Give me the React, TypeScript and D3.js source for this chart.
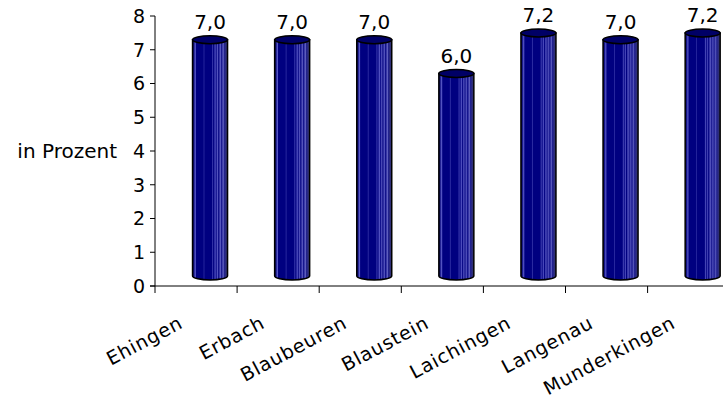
import React from "react";
import * as d3 from "d3";

const categories = ["Ehingen", "Erbach", "Blaubeuren", "Blaustein", "Laichingen", "Langenau", "Munderkingen"];
const values = [7.0, 7.0, 7.0, 6.0, 7.2, 7.0, 7.2];
const valueLabels = ["7,0", "7,0", "7,0", "6,0", "7,2", "7,0", "7,2"];
const yTicks = [0, 1, 2, 3, 4, 5, 6, 7, 8];
const yTitle = "in Prozent";

const W = 723;
const H = 403;
const FONT = "'DejaVu Sans', sans-serif";

export default function App() {
  const left = 155;
  const band = 82.1;
  const x = d3.scaleBand<string>().domain(categories).range([left, left + band * categories.length]).padding(0);
  const y = d3.scaleLinear().domain([0, 8]).range([286, 16]);
  const dx = 14;
  const dy = -10;
  const rx = 17.5;
  const ry = 4;

  const stops: [number, string][] = [
    [0, "#000040"], [0.04, "#141488"], [0.08, "#5a5ac8"], [0.11, "#000080"],
    [0.3, "#000080"], [0.33, "#2a2aa0"], [0.35, "#000080"], [0.55, "#000080"],
    [0.58, "#4848b8"], [0.6, "#000080"], [0.65, "#5050c0"], [0.67, "#000080"],
    [0.72, "#6060c8"], [0.74, "#10108a"], [0.8, "#5858c0"], [0.82, "#10108a"],
    [0.88, "#6060c0"], [0.9, "#202090"], [1, "#38386a"],
  ];

  return (
    <svg width={W} height={H} style={{ position: "absolute", left: 0, top: 0, background: "#fff" }}>
      <defs>
        <linearGradient id="cyl" x1="0" x2="1" y1="0" y2="0">
          {stops.map(([o, c], i) => (
            <stop key={i} offset={o} stopColor={c} />
          ))}
        </linearGradient>
      </defs>
      {/* axes */}
      <line x1={left} x2={left} y1={y(8)} y2={y(0)} stroke="#000" strokeWidth={1} />
      <line x1={left - 5} x2={W} y1={y(0)} y2={y(0)} stroke="#000" strokeWidth={1} />
      {yTicks.map((t) => (
        <g key={t}>
          <line x1={left - 5} x2={left} y1={y(t)} y2={y(t)} stroke="#000" />
          <text x={left - 10} y={y(t)} dy="0.36em" textAnchor="end" fontFamily={FONT} fontSize={19} fill="#000">
            {t}
          </text>
        </g>
      ))}
      {categories.map((c, i) => (
        <line key={"xt" + i} x1={(x(c) as number)} x2={(x(c) as number)} y1={y(0)} y2={y(0) + 7} stroke="#000" />
      ))}
      <line x1={left + band * 7} x2={left + band * 7} y1={y(0)} y2={y(0) + 7} stroke="#000" />
      <text x={117} y={y(4)} dy="0.36em" textAnchor="end" fontFamily={FONT} fontSize={20} fill="#000">
        {yTitle}
      </text>
      {/* cylinders */}
      {categories.map((c, i) => {
        const cx = (x(c) as number) + x.bandwidth() / 2 + dx;
        const top = y(values[i]) + dy;
        const base = y(0) + dy;
        const l = cx - rx;
        const r = cx + rx;
        const body = `M${l},${top} L${l},${base} A${rx},${ry} 0 0 0 ${r},${base} L${r},${top} Z`;
        return (
          <g key={c}>
            <path d={body} fill="url(#cyl)" stroke="#000" strokeWidth={1.5} />
            <ellipse cx={cx} cy={top} rx={rx} ry={ry} fill="#000066" stroke="#000" strokeWidth={1.5} />
            <text x={cx} y={top - ry - 7} textAnchor="middle" fontFamily={FONT} fontSize={20} fill="#000">
              {valueLabels[i]}
            </text>
          </g>
        );
      })}
      {/* x labels */}
      {categories.map((c, i) => {
        const ax = (x(c) as number) + x.bandwidth() / 2 - 12;
        const ay = 327;
        return (
          <text
            key={"xl" + c}
            transform={`translate(${ax},${ay}) rotate(-28)`}
            textAnchor="end"
            fontFamily={FONT}
            fontSize={19}
            letterSpacing={0.8}
            fill="#000"
          >
            {c}
          </text>
        );
      })}
    </svg>
  );
}
